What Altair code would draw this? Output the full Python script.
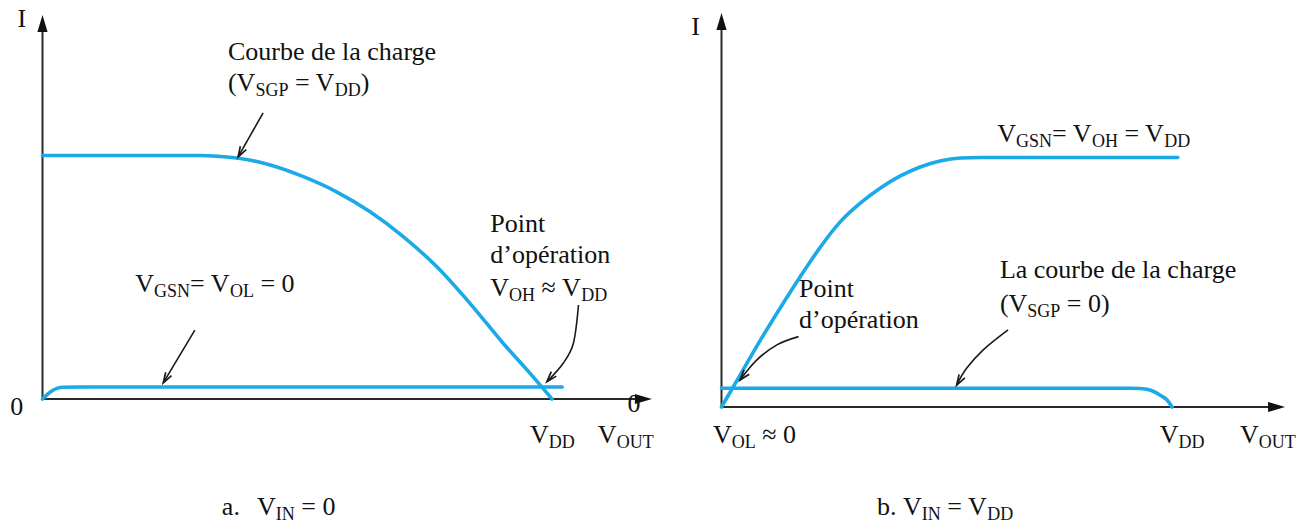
import math
import re

import altair as alt
import pandas as pd

# ---------------------------------------------------------------------------
# Curves, x = V_OUT / V_DD, y = I (normalised to the saturation current)
# ---------------------------------------------------------------------------
# a. V_IN = 0 : PMOS load curve (V_SGP = V_DD) and NMOS off (V_GSN = 0)
a_load_v = [0.0, 0.309, 0.348, 0.388, 0.447, 0.512, 0.577, 0.643, 0.708, 0.774, 0.839, 0.904, 0.957, 1.0]
a_load_i = [1.0, 1.0, 0.996, 0.988, 0.961, 0.913, 0.851, 0.769, 0.667, 0.543, 0.393, 0.229, 0.105, 0.0]
a_nmos_v = [0.0, 0.016, 0.041, 0.080, 1.020]
a_nmos_i = [0.0, 0.030, 0.048, 0.049, 0.049]

# b. V_IN = V_DD : NMOS on (V_GSN = V_DD) and PMOS load off (V_SGP = 0)
b_nmos_v = [0.0, 0.041, 0.085, 0.130, 0.174, 0.219, 0.263, 0.308, 0.352, 0.396, 0.441,
            0.485, 0.530, 0.574, 1.013]
b_nmos_i = [0.0, 0.127, 0.264, 0.396, 0.520, 0.640, 0.741, 0.817, 0.877, 0.925, 0.962,
            0.986, 0.998, 1.0, 1.0]
b_load_v = [0.0, 0.907, 0.929, 0.951, 0.973, 0.989, 1.0]
b_load_i = [0.075, 0.075, 0.074, 0.068, 0.048, 0.028, 0.0]

# Axis arrow tips (x tip on V_OUT, y tip on I)
a_axis_tips = (1.196, 1.577)
b_axis_tips = (1.251, 1.579)

# Annotation leader arrows (tail ... head)
a_arrows = {
    "charge": [(0.433, 1.175), (0.384, 0.994)],
    "vgsn": [(0.299, 0.283), (0.237, 0.066)],
    "point": [(1.052, 0.386), (1.042, 0.229), (1.022, 0.147), (0.990, 0.071)],
}
b_arrows = {
    "point": [(0.171, 0.282), (0.123, 0.249), (0.078, 0.188), (0.041, 0.108)],
    "charge": [(0.636, 0.309), (0.581, 0.229), (0.544, 0.155), (0.522, 0.088)],
}

# Labels: (x, y, markup, align) ; "_{..}" marks a subscript
a_labels = [
    (-0.032, 1.528, "I", "right"),
    (-0.038, -0.066, "0", "right"),
    (0.364, 1.392, "Courbe de la charge", "left"),
    (0.364, 1.265, "(V_{SGP} = V_{DD})", "left"),
    (0.182, 0.439, "V_{GSN}= V_{OL} = 0", "left"),
    (0.879, 0.687, "Point", "left"),
    (0.879, 0.559, "d’opération", "left"),
    (0.879, 0.421, "V_{OH} ≈ V_{DD}", "left"),
    (0.957, -0.181, "V_{DD}", "left"),
    (1.090, -0.181, "V_{OUT}", "left"),
    (1.148, -0.053, "0", "left"),
    (0.352, -0.476, "a.", "left"),
    (0.421, -0.476, "V_{IN} = 0", "left"),
]
b_labels = [
    (-0.048, 1.491, "I", "right"),
    (0.612, 1.062, "V_{GSN}= V_{OH} = V_{DD}", "left"),
    (0.618, 0.517, "La courbe de la charge", "left"),
    (0.618, 0.381, "(V_{SGP} = 0)", "left"),
    (0.172, 0.441, "Point", "left"),
    (0.172, 0.317, "d’opération", "left"),
    (-0.019, -0.144, "V_{OL} ≈ 0", "left"),
    (0.973, -0.144, "V_{DD}", "left"),
    (1.151, -0.144, "V_{OUT}", "left"),
    (0.345, -0.433, "b.", "left"),
    (0.403, -0.433, "V_{IN} = V_{DD}", "left"),
]

# ---------------------------------------------------------------------------
# Panel frames: plot size and the pixel scale of one unit on each axis
# ---------------------------------------------------------------------------
PANEL_A = dict(width=670, height=524, x0=42.5, y0=399.0, ux=509.5, uy=243.5)
PANEL_B = dict(width=641, height=524, x0=51.5, y0=407.0, ux=450.5, uy=249.5)

CURVE = "#1ca9e8"
INK = "#1a1a1a"
FONT = "Liberation Serif, Times New Roman, DejaVu Serif, serif"
MAIN, SUB, SUB_SHIFT = 26, 18, 5

# Times-compatible advance widths (per 1000 em) for composing subscripts
ADV = {' ': 250, '(': 333, ')': 333, '=': 564, '0': 500, '≈': 549, '’': 333, '.': 250,
       'A': 722, 'B': 667, 'C': 667, 'D': 722, 'E': 611, 'G': 722, 'H': 722, 'I': 333,
       'L': 611, 'N': 722, 'O': 722, 'P': 556, 'S': 556, 'T': 611, 'U': 722, 'V': 722,
       'a': 444, 'b': 500, 'c': 444, 'd': 500, 'e': 444, 'é': 444, 'g': 500, 'h': 500,
       'i': 278, 'l': 278, 'n': 500, 'o': 500, 'p': 500, 'r': 333, 't': 278, 'u': 500}


def text_width(s, size):
    return sum(ADV.get(ch, 500) for ch in s) * size / 1000.0


def rich(p, x, y, markup, align):
    frags = []
    for piece in re.split(r"(_\{[^}]*\})", markup):
        if not piece:
            continue
        if piece.startswith("_{"):
            frags.append((piece[2:-1], SUB, SUB_SHIFT))
        else:
            frags.append((piece, MAIN, 0))
    total = sum(text_width(t, s) for t, s, _ in frags)
    offset = -total if align == "right" else 0.0
    rows = []
    for t, s, d in frags:
        lead = len(t) - len(t.lstrip(" "))
        shown = t.lstrip(" ")
        rows.append(dict(v=x + (offset + text_width(" " * lead, s)) / p["ux"],
                         i=y - d / p["uy"], text=shown, size=s))
        offset += text_width(t, s)
    return rows


def head_angle(p, tail, tip):
    dx = (tip[0] - tail[0]) * p["ux"]
    dy = -(tip[1] - tail[1]) * p["uy"]
    return math.degrees(math.atan2(dx, -dy)) % 360


def panel(p, curves, tips, arrows, labels):
    xs = alt.Scale(domain=[-p["x0"] / p["ux"], (p["width"] - p["x0"]) / p["ux"]], nice=False, zero=False)
    ys = alt.Scale(domain=[-(p["height"] - p["y0"]) / p["uy"], p["y0"] / p["uy"]], nice=False, zero=False)
    X = alt.X("v:Q", scale=xs, axis=None)
    Y = alt.Y("i:Q", scale=ys, axis=None)

    crows = []
    for name, (vs, iss) in curves.items():
        for k, (v, i) in enumerate(zip(vs, iss)):
            crows.append(dict(curve=name, seq=k, v=v, i=i))
    curve_layer = alt.Chart(pd.DataFrame(crows)).mark_line(
        interpolate="monotone", color=CURVE, strokeWidth=3.6, strokeCap="round"
    ).encode(x=X, y=Y, detail="curve:N", order="seq:Q")

    xtip, ytip = tips
    axis_df = pd.DataFrame([
        dict(part="x", seq=0, v=0.0, i=0.0), dict(part="x", seq=1, v=xtip - 0.02, i=0.0),
        dict(part="y", seq=0, v=0.0, i=0.0), dict(part="y", seq=1, v=0.0, i=ytip - 0.03),
    ])
    axis_layer = alt.Chart(axis_df).mark_line(color="#2a2a2a", strokeWidth=2).encode(
        x=X, y=Y, detail="part:N", order="seq:Q")
    tip_df = pd.DataFrame([dict(v=xtip, i=0.0, angle=90), dict(v=0.0, i=ytip, angle=0)])
    tip_layer = alt.Chart(tip_df).mark_point(
        shape="M0,0L0.6,2L-0.6,2Z", filled=True, color="#111111", size=289, opacity=1
    ).encode(x=X, y=Y, angle=alt.Angle("angle:Q", scale=None))

    arows, hrows = [], []
    for name, pts in arrows.items():
        for k, (v, i) in enumerate(pts):
            arows.append(dict(arrow=name, seq=k, v=v, i=i))
        hrows.append(dict(v=pts[-1][0], i=pts[-1][1], angle=head_angle(p, pts[-2], pts[-1])))
    shaft_layer = alt.Chart(pd.DataFrame(arows)).mark_line(
        interpolate="cardinal", color=INK, strokeWidth=1.6
    ).encode(x=X, y=Y, detail="arrow:N", order="seq:Q")
    head_layer = alt.Chart(pd.DataFrame(hrows)).mark_point(
        shape="M-0.42,1.3L0,0L0.42,1.3", filled=False, color=INK, strokeWidth=1.7,
        size=256, opacity=1
    ).encode(x=X, y=Y, angle=alt.Angle("angle:Q", scale=None))

    trows = []
    for x, y, markup, align in labels:
        trows.extend(rich(p, x, y, markup, align))
    text_layer = alt.Chart(pd.DataFrame(trows)).mark_text(
        font=FONT, align="left", baseline="alphabetic", color="#111111"
    ).encode(x=X, y=Y, text="text:N", size=alt.Size("size:Q", scale=None))

    return alt.layer(
        axis_layer, curve_layer, shaft_layer, head_layer, tip_layer, text_layer
    ).properties(width=p["width"], height=p["height"])


chart_a = panel(
    PANEL_A,
    {"load": (a_load_v, a_load_i), "nmos": (a_nmos_v, a_nmos_i)},
    a_axis_tips, a_arrows, a_labels,
)
chart_b = panel(
    PANEL_B,
    {"nmos": (b_nmos_v, b_nmos_i), "load": (b_load_v, b_load_i)},
    b_axis_tips, b_arrows, b_labels,
)

chart = alt.hconcat(chart_a, chart_b, spacing=0).properties(
    padding=0, background="white"
).configure_view(stroke=None)

chart.save("out.html", embed_options={"renderer": "svg", "actions": False})
